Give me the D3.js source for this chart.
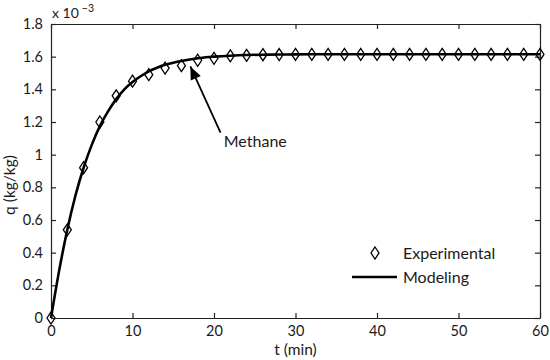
<!DOCTYPE html>
<html><head><meta charset="utf-8">
<script src="https://cdn.jsdelivr.net/npm/d3@7"></script>
<style>
html,body{margin:0;padding:0;background:#fff;}
svg text{font-family:"Lato","Noto Sans",sans-serif;fill:#1a1a1a;}
</style></head>
<body>
<svg id="chart" width="550" height="360"></svg>
<script>
// Experimental data (t in min, q in 1e-3 kg/kg)
const expT = [0,2,4,6,8,10,12,14,16,18,20,22,24,26,28,30,32,34,36,38,40,42,44,46,48,50,52,54,56,58,60];
const expQ = [0,0.54,0.92,1.20,1.36,1.45,1.49,1.53,1.545,1.578,1.59,1.605,1.608,1.612,1.613,1.614,1.614,1.614,1.614,1.614,1.614,1.614,1.614,1.614,1.614,1.614,1.614,1.614,1.614,1.614,1.614];
// Modeling curve
const modT = [0,1,2,3,4,5,6,7,8,9,10,11,12,13,14,15,16,17,18,19,20,22,24,26,28,30,35,40,50,60];
const modQ = [0,0.29,0.54,0.75,0.92,1.06,1.175,1.265,1.34,1.40,1.445,1.48,1.51,1.532,1.55,1.563,1.574,1.583,1.59,1.596,1.60,1.606,1.61,1.612,1.613,1.614,1.615,1.615,1.615,1.615];
const xTicks = [0,10,20,30,40,50,60];
const yTicks = [0,0.2,0.4,0.6,0.8,1,1.2,1.4,1.6,1.8];
const legendLabels = ["Experimental","Modeling"];
const annotation = {text:"Methane", head:[17.1,1.54], tail:[20.8,1.135], label:[21.2,1.05]};

const svg = d3.select("#chart");
const L=51, R=540, T=24, B=318;
const x = d3.scaleLinear().domain([0,60]).range([L,R]);
const y = d3.scaleLinear().domain([0,1.8]).range([B,T]);
const fs = 14.5, ls = 16;

// axes with inward ticks
const ax = svg.append("g");
const axB = ax.append("g").attr("transform",`translate(0,${B})`)
  .call(d3.axisBottom(x).tickValues(xTicks).tickSizeInner(-5).tickSizeOuter(0).tickPadding(7.5).tickFormat(d3.format("d")));
const axT = ax.append("g").attr("transform",`translate(0,${T})`)
  .call(d3.axisTop(x).tickValues(xTicks).tickSizeInner(-5).tickSizeOuter(0).tickFormat(""));
const axL = ax.append("g").attr("transform",`translate(${L},0)`)
  .call(d3.axisLeft(y).tickValues(yTicks).tickSizeInner(-5).tickSizeOuter(0).tickPadding(8).tickFormat(d=>d3.format("~g")(d)));
const axR = ax.append("g").attr("transform",`translate(${R},0)`)
  .call(d3.axisRight(y).tickValues(yTicks).tickSizeInner(-5).tickSizeOuter(0).tickFormat(""));
ax.selectAll(".domain").attr("stroke","#222").attr("stroke-width",1.2);
ax.selectAll(".tick line").attr("stroke","#222").attr("stroke-width",1.2);
ax.selectAll(".tick text").attr("font-size",fs).attr("font-family","Lato, 'Noto Sans', sans-serif").attr("fill","#1a1a1a");

// model line
const line = d3.line().x((d,i)=>x(modT[i])).y(d=>y(d)).curve(d3.curveMonotoneX);
svg.append("path").datum(modQ).attr("d",line).attr("fill","none").attr("stroke","#000").attr("stroke-width",2.6).attr("stroke-linejoin","round");

// diamonds
const dw=4, dh=6;
const diamond = (cx,cy)=>`M${cx},${cy-dh}L${cx+dw},${cy}L${cx},${cy+dh}L${cx-dw},${cy}Z`;
svg.append("g").selectAll("path").data(expQ).join("path")
  .attr("d",(d,i)=>diamond(x(expT[i]),y(d)))
  .attr("fill","none").attr("stroke","#000").attr("stroke-width",1.3);

// annotation arrow
const hx=x(annotation.head[0]), hy=y(annotation.head[1]);
const tx=x(annotation.tail[0]), ty=y(annotation.tail[1]);
svg.append("line").attr("x1",tx).attr("y1",ty).attr("x2",hx).attr("y2",hy).attr("stroke","#000").attr("stroke-width",1.8);
const ang=Math.atan2(hy-ty,hx-tx), al=13, aw=5.5;
const bx=hx-al*Math.cos(ang), by=hy-al*Math.sin(ang);
svg.append("path").attr("d",`M${hx},${hy}L${bx+aw*Math.sin(ang)},${by-aw*Math.cos(ang)}L${bx-aw*Math.sin(ang)},${by+aw*Math.cos(ang)}Z`).attr("fill","#000");
svg.append("text").attr("x",x(annotation.label[0])).attr("y",y(annotation.label[1])).attr("font-size",ls).text(annotation.text);

// multiplier
const mt = svg.append("text").attr("x",L+1).attr("y",18).attr("font-size",14);
mt.append("tspan").text("x 10");
mt.append("tspan").attr("dy",-6).attr("dx",3).attr("font-size",10.5).text("\u22123");

// axis labels
svg.append("text").attr("x",(L+R)/2).attr("y",355).attr("text-anchor","middle").attr("font-size",15.5).text("t (min)");
svg.append("text").attr("transform","translate(15,185) rotate(-90)").attr("text-anchor","middle").attr("font-size",15.5).text("q (kg/kg)");

// legend
const lg = svg.append("g");
lg.append("path").attr("d",diamond(375,253)).attr("fill","none").attr("stroke","#000").attr("stroke-width",1.3);
lg.append("text").attr("x",403).attr("y",258.5).attr("font-size",ls).text(legendLabels[0]);
lg.append("line").attr("x1",352).attr("x2",397).attr("y1",277).attr("y2",277).attr("stroke","#000").attr("stroke-width",2.6);
lg.append("text").attr("x",403).attr("y",282.5).attr("font-size",ls).text(legendLabels[1]);
</script>
</body></html>
